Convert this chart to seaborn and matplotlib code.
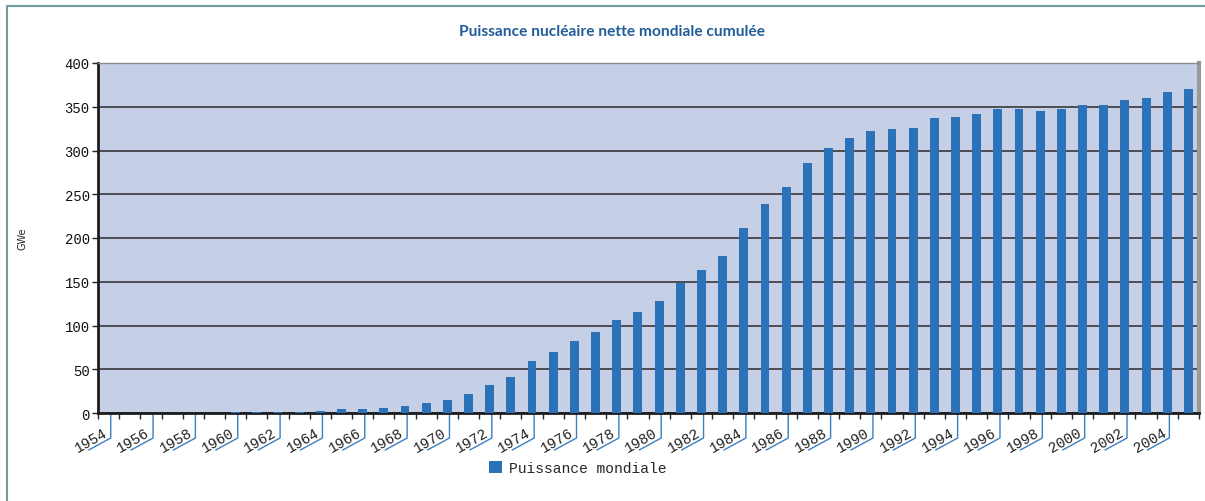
import matplotlib
matplotlib.use("Agg")
import matplotlib.pyplot as plt
import matplotlib.transforms as mtransforms
from matplotlib.lines import Line2D
import seaborn as sns
import pandas as pd

# data (GWe)
years = list(range(1954, 2006))
puissance = [0, 0, 0, 0, 0, 0,
             1, 1, 1, 0.8, 2.3, 4.6, 4.6, 5.7, 8.4, 11,
             15, 21.3, 31.8, 40.8, 59, 69.3, 82.3, 92.6, 106.7, 115.8,
             128.4, 149, 163.4, 179, 211.4, 238.5, 258.5, 286, 302.9, 314.7,
             322.3, 325, 326, 336.6, 338.3, 341.6, 348, 348, 345.4, 348,
             351.9, 351.9, 357.2, 359.8, 367.4, 370]
yticks = [0, 50, 100, 150, 200, 250, 300, 350, 400]
title = "Puissance nucléaire nette mondiale cumulée"
serie = "Puissance mondiale"

df = pd.DataFrame({"annee": [str(y) for y in years], "gwe": puissance})

sns.set_style("white")
mono = "Liberation Mono"
bar_color = "#2b72b8"

fig = plt.figure(figsize=(12.05, 5.02), dpi=100)
ax = fig.add_axes([98 / 1205, 1 - 414 / 502, 1101 / 1205, 350 / 502])

sns.barplot(data=df, x="annee", y="gwe", color=bar_color, saturation=1,
            width=0.42, label=serie, ax=ax, zorder=3, linewidth=0)
if ax.get_legend() is not None:
    ax.get_legend().remove()

ax.set_facecolor("#c5d0e6")
ax.set_xlim(-0.5, len(years) - 0.5)
ax.set_ylim(0, 400)
ax.set_yticks(yticks)
ax.set_yticklabels([str(v) for v in yticks], fontfamily=mono, fontsize=10,
                   color="#111")
ax.yaxis.grid(True, color="#2a2a2a", lw=1.1)
ax.set_axisbelow(True)
ax.tick_params(axis="y", length=4, width=1, color="#222", pad=2, left=True)

# x: ticks at the category boundaries, labels drawn by hand below
ax.set_xticks([i - 0.5 for i in range(len(years) + 1)])
ax.set_xticklabels([])
ax.tick_params(axis="x", length=4, width=1, color="#222", bottom=True)
ax.set_xlabel("")
ax.set_ylabel("GWe", fontsize=7, fontfamily="DejaVu Sans", labelpad=27)

for s in ["left", "bottom"]:
    ax.spines[s].set_color("#1e1e1e")
    ax.spines[s].set_linewidth(2)
ax.spines["top"].set_color("#8a8a8a")
ax.spines["top"].set_linewidth(1)
ax.spines["right"].set_color("#9a9a9a")
ax.spines["right"].set_linewidth(3)

# rotated year labels with their little blue connector
for i, y in enumerate(years):
    if i % 2:
        continue
    tr = fig.dpi_scale_trans + mtransforms.ScaledTranslation(
        i + 0.1, 0, ax.get_xaxis_transform())
    ax.add_line(Line2D([0, 0, -0.22], [-0.01, -0.25, -0.37], transform=tr,
                       color="#3a7fc0", lw=1, clip_on=False))
    ax.text(-0.01, -0.245, str(y), transform=tr, rotation=30,
            rotation_mode="anchor", ha="right", va="bottom",
            fontfamily=mono, fontsize=10.5, color="#222")

fig.text(612 / 1205, 1 - 32 / 502, title, ha="center", va="center",
         fontfamily="Lato", fontweight="bold", fontsize=11.2, color="#215d99")

handles, labels = ax.get_legend_handles_labels()
fig.legend(handles, labels, loc="center", bbox_to_anchor=(578 / 1205, 1 - 469 / 502),
           frameon=False, handlelength=0.9, handleheight=0.9, handletextpad=0.5,
           prop={"family": mono, "size": 10.5})

# outer frame (top and left edges visible)
fig.add_artist(Line2D([7 / 1205, 7 / 1205, 1], [0, 1 - 7 / 502, 1 - 7 / 502],
                      transform=fig.transFigure, color="#6f9c9c", lw=1.5))

fig.savefig("out.png", dpi=100)
